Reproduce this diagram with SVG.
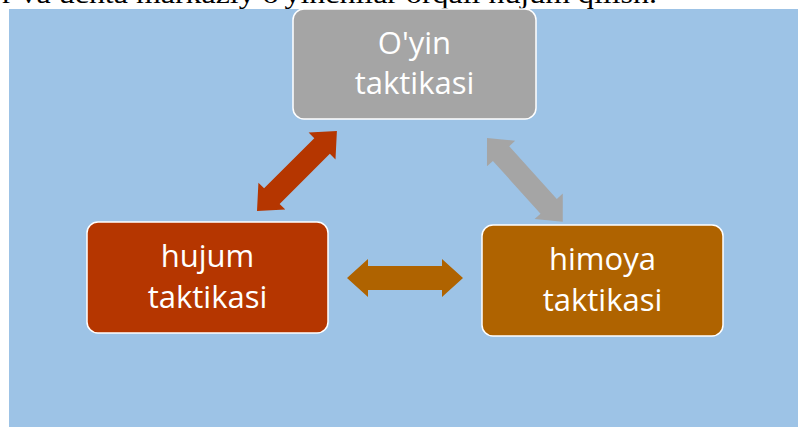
<svg xmlns="http://www.w3.org/2000/svg" width="798" height="427" viewBox="0 0 798 427">
<style>
.node rect{stroke:#ffffff;stroke-width:1.5}
.lbl{font-family:"Open Sans","Noto Sans",sans-serif;font-size:31px;fill:#ffffff;text-anchor:middle}
.top{font-family:"Liberation Serif",serif;font-size:27px;fill:#000000}
</style>
<rect x="0" y="0" width="798" height="427" fill="#ffffff"/>
<text class="top" x="2" y="3" textLength="655" lengthAdjust="spacingAndGlyphs">r va uchta markaziy o'yinchilar orqali hujum qilish.</text>
<rect x="9" y="9" width="789" height="418" fill="#9DC3E6"/>
<g id="connectors">
<path d="M0,0 L21,-19 L21,-11 L92,-11 L92,-19 L113,0 L92,19 L92,11 L21,11 L21,19 Z" fill="#B53600" transform="translate(257,211) rotate(-45)"/>
<path d="M0,0 L21,-19 L21,-11 L92,-11 L92,-19 L113,0 L92,19 L92,11 L21,11 L21,19 Z" fill="#A5A5A5" transform="translate(487,138) rotate(47.9)"/>
<path d="M0,0 L21,-19 L21,-12 L95,-12 L95,-19 L116,0 L95,19 L95,12 L21,12 L21,19 Z" fill="#AF6300" transform="translate(347,278)"/>
</g>
<g id="node-oyin" class="node">
<rect x="293" y="9" width="243" height="110" rx="11" fill="#A5A5A5"/>
<text class="lbl" x="414.5" y="54">O'yin</text>
<text class="lbl" x="414.5" y="94">taktikasi</text>
</g>
<g id="node-hujum" class="node">
<rect x="87" y="222" width="241" height="111" rx="11" fill="#B53600"/>
<text class="lbl" x="207.5" y="267">hujum</text>
<text class="lbl" x="207.5" y="308">taktikasi</text>
</g>
<g id="node-himoya" class="node">
<rect x="482" y="225" width="241" height="111" rx="11" fill="#AF6300"/>
<text class="lbl" x="602.5" y="270">himoya</text>
<text class="lbl" x="602.5" y="311">taktikasi</text>
</g>
</svg>
